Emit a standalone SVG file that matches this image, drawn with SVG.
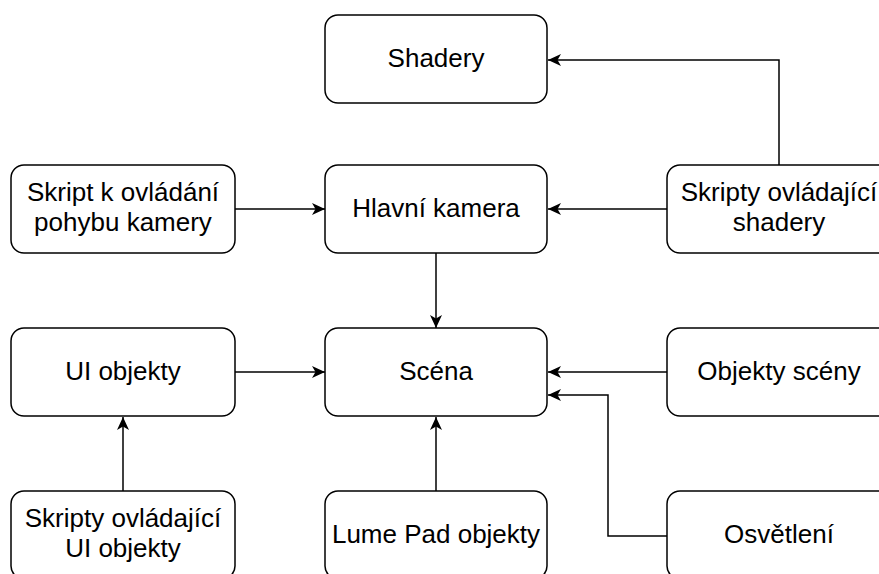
<svg xmlns="http://www.w3.org/2000/svg" width="879" height="574" viewBox="0 0 879 574">
  <style>
    .box { fill: #ffffff; stroke: #000000; stroke-width: 1.5; }
    .lbl { font-family: "Liberation Sans", Arial, Helvetica, sans-serif; font-size: 26px; fill: #000000; text-anchor: middle; }
    .edge { fill: none; stroke: #000000; stroke-width: 1.5; marker-end: url(#arrow); }
  </style>
  <defs>
    <marker id="arrow" markerUnits="userSpaceOnUse" markerWidth="14" markerHeight="14" viewBox="0 0 14 14" refX="13" refY="7" orient="auto">
      <path d="M0,1 L13,7 L0,13 L3.5,7 Z" fill="#000000" stroke="none"/>
    </marker>
  </defs>

  <rect width="879" height="574" fill="#ffffff"/>

  <g id="connectors">
    <path class="edge" d="M779,165 V60 H548"/>
    <path class="edge" d="M667,209 H548"/>
    <path class="edge" d="M235,209 H325"/>
    <path class="edge" d="M436,253 V328"/>
    <path class="edge" d="M235,372 H325"/>
    <path class="edge" d="M667,372 H548"/>
    <path class="edge" d="M667,536 H608 V395 H548"/>
    <path class="edge" d="M436,491 V417"/>
    <path class="edge" d="M123,491 V417"/>
  </g>

  <g id="shadery">
    <rect class="box" x="325" y="15" width="222" height="88" rx="13"/>
    <text class="lbl" x="436" y="67">Shadery</text>
  </g>

  <g id="skript-kamera">
    <rect class="box" x="11" y="165" width="224" height="88" rx="13"/>
    <text class="lbl" x="123" y="201">Skript k ovládání</text>
    <text class="lbl" x="123" y="231">pohybu kamery</text>
  </g>

  <g id="hlavni-kamera">
    <rect class="box" x="325" y="165" width="222" height="88" rx="13"/>
    <text class="lbl" x="436" y="217">Hlavní kamera</text>
  </g>

  <g id="skripty-shadery">
    <rect class="box" x="667" y="165" width="224" height="88" rx="13"/>
    <text class="lbl" x="779" y="201">Skripty ovládající</text>
    <text class="lbl" x="779" y="231">shadery</text>
  </g>

  <g id="ui-objekty">
    <rect class="box" x="11" y="328" width="224" height="88" rx="13"/>
    <text class="lbl" x="123" y="380">UI objekty</text>
  </g>

  <g id="scena">
    <rect class="box" x="325" y="328" width="222" height="88" rx="13"/>
    <text class="lbl" x="436" y="380">Scéna</text>
  </g>

  <g id="objekty-sceny">
    <rect class="box" x="667" y="328" width="224" height="88" rx="13"/>
    <text class="lbl" x="779" y="380">Objekty scény</text>
  </g>

  <g id="skripty-ui">
    <rect class="box" x="11" y="491" width="224" height="88" rx="13"/>
    <text class="lbl" x="123" y="527">Skripty ovládající</text>
    <text class="lbl" x="123" y="557">UI objekty</text>
  </g>

  <g id="lume-pad">
    <rect class="box" x="325" y="491" width="222" height="88" rx="13"/>
    <text class="lbl" x="436" y="543">Lume Pad objekty</text>
  </g>

  <g id="osvetleni">
    <rect class="box" x="667" y="491" width="224" height="88" rx="13"/>
    <text class="lbl" x="779" y="543">Osvětlení</text>
  </g>
</svg>
